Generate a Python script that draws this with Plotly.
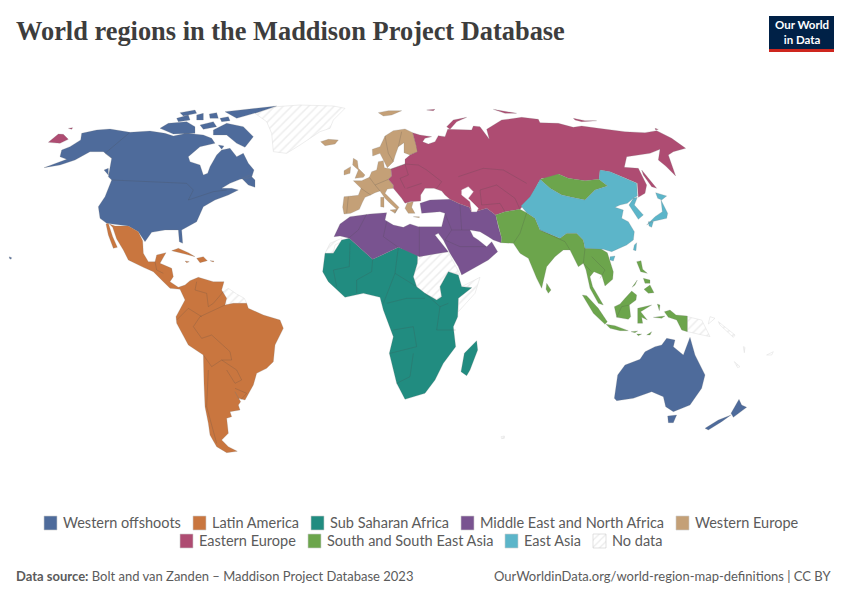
import plotly.graph_objects as go

# outlines, in map units (1/3 of a pixel)
# the *_e lists are measured from x=1275 so they get shifted when drawn

western_offshoots_w = [
    [(132,233),(175,218),(200,208),(180,200),(185,180),(210,170),(242,150),(245,130),(290,120),(330,117),(390,127),(450,123),(495,130),(520,138),(560,130),(610,135),(635,145),(645,160),(600,170),(565,200),(570,215),(600,225),(610,255),(623,250),(630,230),(650,195),(665,180),(690,175),(710,200),(730,190),(745,220),(762,240),(755,262),(720,268),(690,280),(665,295),(695,295),(715,300),(685,315),(645,330),(610,350),(590,395),(545,420),(548,460),(538,455),(535,420),(495,420),(455,427),(435,455),(415,425),(385,408),(320,400),(300,385),(295,350),(315,320),(335,270),(325,260),(335,205),(310,185),(270,185),(225,210),(180,225)],
    [(725,265),(750,255),(765,270),(765,292),(745,285)],
    [(640,120),(680,100),(730,110),(760,140),(735,172),(710,160),(680,135),(640,135)],
    [(675,65),(830,48),(770,68),(710,85)],
    [(505,100),(560,95),(585,110),(585,130),(520,132),(480,115)],
    [(530,85),(565,75),(570,90),(535,95)],
    [(590,75),(610,70),(610,90),(590,90)],
    [(628,72),(650,68),(655,85),(630,85)],
    [(600,105),(640,95),(650,110),(610,118)],
    [(660,85),(685,80),(690,92),(665,95)],
    [(540,68),(585,60),(590,70),(550,78)],
    [(655,165),(672,168),(665,178)],
    [(312,240),(325,235),(325,255)],
    [(28,500),(35,503),(33,508),(28,505)],
]
western_offshoots_e = [
    [(568,925),(578,855),(600,825),(645,808),(660,785),(690,770),(710,765),(725,745),(750,750),(745,770),(775,795),(795,742),(810,795),(840,855),(830,895),(795,945),(745,965),(722,950),(715,920),(680,905),(625,925),(575,932)],
    [(728,978),(755,975),(745,998),(730,998)],
    [(942,928),(950,945),(965,952),(925,982),(918,970)],
    [(918,975),(890,995),(850,1020),(840,1015),(880,990)],
]

latin_america_w = [
    [(328,402),(345,408),(385,408),(415,425),(428,452),(430,490),(445,515),(465,515),(470,495),(498,488),(480,520),(515,535),(520,560),(510,575),(535,592),(555,585),(570,572),(595,562),(640,575),(672,575),(665,600),(680,625),(675,645),(700,640),(740,640),(745,655),(790,675),(840,690),(850,715),(825,765),(820,815),(800,835),(770,850),(760,885),(735,930),(715,925),(705,905),(722,935),(715,945),(720,960),(690,965),(695,980),(680,985),(685,1030),(665,1050),(685,1070),(712,1084),(680,1088),(650,1070),(630,1035),(625,1000),(615,950),(612,880),(610,795),(565,765),(530,700),(528,680),(555,630),(540,598),(510,595),(490,575),(460,545),(430,532),(385,510),(370,480),(350,447),(338,412)],
    [(318,402),(325,400),(338,440),(352,472),(340,475),(325,435)],
    [(515,482),(535,475),(565,488),(585,500),(555,492),(530,485)],
    [(590,505),(610,500),(622,512),(600,518)],
    [(555,513),(568,515),(560,518)],
    [(630,512),(642,513),(640,516)],
]

sub_saharan_africa_w = [
    [(1048,445),(1118,508),(1195,472),(1253,490),(1252,520),(1240,560),(1250,590),(1275,610),(1310,630),(1325,620),(1320,590),(1345,545),(1375,555),(1385,590),(1415,593),(1375,625),(1373,680),(1360,710),(1367,770),(1330,820),(1305,870),(1275,910),(1215,928),(1190,880),(1168,790),(1180,740),(1150,660),(1140,622),(1090,610),(1035,622),(985,575),(968,545),(975,490),(1000,490),(1025,450)],
]
sub_saharan_africa_e = [
    [(155,752),(158,780),(135,840),(125,857),(108,845),(118,790)],
]

middle_east_north_africa_e = [
    [(70,485),(-17,500),(-80,472),(-157,508),(-227,445),(-255,438),(-273,440),(-255,402),(-225,380),(-165,372),(-115,368),(-120,390),(-95,405),(-65,412),(-45,402),(-20,410),(35,410),(50,410),(60,370),(45,365),(-10,370),(-15,340),(15,330),(75,328),(100,340),(133,352),(140,365),(160,362),(185,355),(212,375),(220,410),(230,445),(228,458),(205,450),(190,440),(165,425),(135,420),(145,440),(160,450),(185,470),(200,455),(218,485),(190,510),(110,555),(100,530),(75,490),(55,450),(40,430),(30,435)],
]

western_europe_w = [
    [(1028,352),(1032,320),(1075,316),(1083,295),(1060,272),(1085,272),(1108,262),(1115,245),(1130,240),(1135,215),(1150,212),(1153,233),(1173,237),(1175,258),(1165,268),(1180,285),(1180,295),(1162,297),(1155,310),(1180,335),(1197,352),(1185,370),(1190,358),(1170,340),(1155,325),(1140,303),(1125,308),(1112,315),(1095,322),(1088,335),(1078,358),(1052,370),(1032,372)],
    [(1118,198),(1117,178),(1140,170),(1155,138),(1180,122),(1215,117),(1238,128),(1248,165),(1255,185),(1230,195),(1212,188),(1212,158),(1195,170),(1185,198),(1180,215),(1162,233),(1150,210),(1140,190)],
    [(1060,205),(1072,212),(1075,235),(1095,255),(1090,262),(1065,265),(1075,240),(1058,225)],
    [(1032,242),(1052,230),(1050,250),(1032,255)],
    [(1142,322),(1152,322),(1152,352),(1142,350)],
    [(1170,360),(1190,358),(1185,370)],
    [(1222,338),(1240,335),(1235,352),(1245,370),(1225,370),(1215,355)],
    [(1240,380),(1258,380),(1258,383)],
    [(962,155),(985,148),(1015,150),(1005,162),(975,167)],
    [(1135,68),(1165,62),(1205,62),(1175,75),(1150,78)],
]

eastern_europe_w = [
    [(145,157),(175,132),(190,133),(205,148),(180,160)],
    [(205,115),(218,113),(215,118)],
]
eastern_europe_e = [
    [(-102,237),(-60,222),(-60,208),(-45,195),(-23,185),(-27,165),(-37,128),(-15,135),(20,140),(0,145),(-7,155),(10,162),(30,155),(40,137),(60,140),(65,125),(68,118),(140,120),(145,108),(165,110),(180,130),(193,148),(185,118),(230,90),(290,82),(340,88),(345,98),(400,100),(445,112),(470,108),(520,115),(600,125),(660,128),(695,122),(740,145),(782,175),(745,185),(730,195),(752,258),(722,228),(700,210),(705,178),(675,190),(605,200),(598,232),(640,235),(665,285),(660,310),(640,322),(637,280),(595,262),(555,245),(525,240),(522,268),(480,272),(430,265),(400,252),(395,265),(350,265),(340,278),(318,320),(285,358),(240,365),(212,375),(185,355),(160,362),(140,365),(133,352),(100,340),(75,328),(60,315),(50,303),(27,295),(0,295),(-13,315),(-13,333),(-45,335),(-60,340),(-70,325),(-95,295),(-95,285),(-110,268),(-100,258)],
    [(65,110),(85,90),(125,82),(95,95),(75,118)],
    [(205,58),(245,65),(275,70),(240,70)],
    [(650,240),(695,295),(680,290),(655,255)],
    [(445,85),(480,92),(515,92),(470,95),(450,90)],
    [(5,60),(30,58),(25,62)],
    [(690,115),(700,118),(692,120)],
]

south_east_asia_e = [
    [(212,375),(240,365),(285,358),(305,368),(330,385),(345,420),(405,445),(425,430),(455,430),(475,450),(480,475),(525,475),(547,488),(565,545),(563,568),(540,588),(530,555),(507,545),(495,560),(503,590),(535,645),(520,640),(495,595),(483,540),(475,520),(460,530),(435,480),(415,480),(390,500),(365,530),(350,595),(335,565),(310,505),(285,490),(265,460),(228,458),(230,445),(220,410)],
    [(365,580),(378,600),(370,610),(363,598)],
    [(345,268),(400,252),(430,265),(480,272),(522,268),(548,288),(510,300),(480,330),(440,322),(410,315),(375,295)],
    [(472,615),(485,617),(520,655),(547,695),(540,703),(505,670)],
    [(543,703),(570,707),(610,722),(585,722),(555,715)],
    [(568,650),(585,642),(600,625),(620,603),(635,615),(633,630),(613,645),(617,680),(610,688),(575,682)],
    [(638,655),(680,645),(647,665),(667,690),(650,682),(653,700),(638,700)],
    [(718,665),(735,660),(753,675),(787,678),(787,725),(770,720),(755,690),(730,682)],
    [(635,515),(648,512),(653,538),(667,550),(647,545)],
    [(657,598),(675,585),(687,608),(670,610)],
    [(621,592),(637,570),(630,585)],
    [(655,565),(675,570),(675,580),(660,580)],
    [(665,735),(680,725),(675,735)],
    [(618,725),(638,723),(630,728)],
    [(635,732),(650,732),(640,737)],
    [(697,642),(705,645),(703,662)],
    [(685,682),(720,678),(710,685)],
]

east_asia_e = [
    [(288,348),(315,320),(340,278),(345,268),(375,295),(410,315),(440,322),(480,330),(510,300),(548,288),(522,268),(525,240),(555,245),(595,262),(635,280),(637,318),(625,325),(607,340),(585,345),(570,352),(595,360),(590,385),(610,395),(628,425),(625,450),(605,465),(560,485),(535,478),(480,475),(475,450),(455,430),(425,430),(405,445),(345,420),(330,385),(305,368)],
    [(625,325),(637,322),(628,345),(655,375),(640,388),(625,365),(612,345)],
    [(692,308),(725,318),(710,330),(698,325)],
    [(708,330),(728,370),(725,385),(680,395),(665,405),(690,380),(712,365)],
    [(670,395),(685,395),(680,412),(672,408)],
    [(628,465),(635,458),(633,482),(625,480)],
    [(555,500),(570,498),(565,513),(555,510)],
]

no_data_w = [
    [(765,70),(830,50),(900,45),(1000,48),(1035,55),(1000,90),(990,115),(960,125),(900,165),(860,190),(820,185),(815,130),(800,95)],
    [(670,605),(685,595),(710,612),(733,625),(740,640),(700,640),(680,645),(672,625)],
    [(975,490),(990,460),(1025,445),(1025,455),(1005,465),(1000,490)],
]
no_data_e = [
    [(-25,487),(70,487),(105,553),(70,545),(45,590),(50,620),(35,628),(0,610),(-25,590),(-35,560),(-23,520)],
    [(110,590),(165,562),(150,610),(100,665),(100,625),(140,593)],
    [(787,680),(830,690),(855,740),(787,725)],
    [(855,680),(870,685),(850,702)],
    [(880,695),(930,735),(925,742),(885,705)],
    [(955,770),(960,772),(958,788)],
    [(928,815),(945,830),(938,833)],
    [(1025,795),(1045,785),(1040,795)],
    [(228,1040),(238,1038),(238,1045),(230,1046)],
]

water_e = [
    [(110,300),(130,290),(145,305),(130,325),(160,355),(155,365),(140,365),(135,335),(110,315)],
]

borders_w = [
    [(335,270),(560,280),(580,300),(565,330),(640,305),(680,300)],
    [(390,127),(315,190),(335,205)],
    [(590,575),(585,600),(620,610),(625,650),(640,640),(670,605)],
    [(675,645),(600,680),(580,710),(605,745),(635,735),(690,785),(695,810),(665,810),(635,830),(610,795)],
    [(625,840),(620,950),(650,1060)],
    [(665,810),(710,840),(725,870),(705,880),(680,840)],
    [(705,895),(740,910),(722,930)],
    [(530,690),(565,655),(605,680)],
    [(465,515),(470,540),(490,550)],
    [(1050,460),(1048,530),(1000,540),(1010,590)],
    [(1118,508),(1115,545),(1070,570),(1070,610)],
    [(1195,472),(1185,550),(1150,640)],
    [(1185,550),(1250,590)],
    [(1160,640),(1220,625),(1275,625)],
    [(1180,720),(1240,710),(1250,770),(1170,790)],
    [(1240,790),(1230,860),(1190,880)],
    [(1275,610),(1320,650),(1345,640)],
    [(1320,650),(1310,720),(1367,720)],
    [(1100,372),(1075,420),(1045,445)],
    [(1160,395),(1150,440),(1195,472)],
    [(1258,410),(1258,500)],
    [(1045,320),(1040,370)],
    [(1083,295),(1112,315)],
    [(1108,262),(1125,285),(1165,268)],
    [(1125,285),(1140,303)],
    [(1155,138),(1165,190),(1180,215)],
    [(1195,170),(1205,125)],
]
borders_e = [
    [(100,260),(175,235),(235,240),(305,280)],
    [(-60,222),(-20,225),(5,240)],
    [(5,240),(50,275),(35,295)],
    [(-50,255),(-75,265),(-60,295)],
    [(-55,295),(-10,280)],
    [(-102,237),(-60,222),(-50,255)],
    [(170,345),(165,300),(215,285),(270,325),(285,358)],
    [(240,365),(225,340),(170,345)],
    [(60,370),(80,420),(135,420)],
    [(80,420),(60,450),(105,470),(185,470)],
    [(105,345),(110,420)],
    [(305,368),(295,400),(285,430),(265,460)],
    [(345,420),(420,455),(435,480)],
    [(480,475),(475,520),(500,545)],
    [(500,500),(540,540),(525,565)],
    [(575,682),(590,650),(613,645)],
]

legend_row1 = ["Western offshoots", "Latin America", "Sub Saharan Africa", "Middle East and North Africa", "Western Europe"]
legend_row2 = ["Eastern Europe", "South and South East Asia", "East Asia", "No data"]

colors = {
    "Western offshoots": "#4e6b9b",
    "Latin America": "#c9763f",
    "Sub Saharan Africa": "#218c80",
    "Middle East and North Africa": "#795390",
    "Western Europe": "#c4a077",
    "Eastern Europe": "#ae4c72",
    "South and South East Asia": "#6ca54c",
    "East Asia": "#5cb5c9",
}

regions = [
    ("Western offshoots", western_offshoots_w, western_offshoots_e),
    ("Latin America", latin_america_w, []),
    ("Sub Saharan Africa", sub_saharan_africa_w, sub_saharan_africa_e),
    ("Middle East and North Africa", [], middle_east_north_africa_e),
    ("Western Europe", western_europe_w, []),
    ("Eastern Europe", eastern_europe_w, eastern_europe_e),
    ("South and South East Asia", [], south_east_asia_e),
    ("East Asia", [], east_asia_e),
]

GREY = "#5b5b5b"


def join_shapes(west, east):
    xs, ys = [], []
    for poly in west:
        xs += [p[0] for p in poly] + [poly[0][0], None]
        ys += [p[1] for p in poly] + [poly[0][1], None]
    for poly in east:
        xs += [p[0] + 1275 for p in poly] + [poly[0][0] + 1275, None]
        ys += [p[1] for p in poly] + [poly[0][1], None]
    return xs, ys


def join_lines(west, east):
    xs, ys = [], []
    for line in west:
        xs += [p[0] for p in line] + [None]
        ys += [p[1] for p in line] + [None]
    for line in east:
        xs += [p[0] + 1275 for p in line] + [None]
        ys += [p[1] for p in line] + [None]
    return xs, ys


# screen pixels to map units
def mx(px):
    return px * 3


def my(py):
    return py * 3 - 270


fig = go.Figure()

xs, ys = join_shapes(no_data_w, no_data_e)
fig.add_trace(go.Scatter(x=xs, y=ys, mode="lines", fill="toself", name="No data",
                         line=dict(color="#dddddd", width=0.5),
                         fillcolor="white",
                         fillpattern=dict(shape="/", fgcolor="#dcdcdc", bgcolor="white", size=6, solidity=0.25)))

for name, west, east in regions:
    xs, ys = join_shapes(west, east)
    fig.add_trace(go.Scatter(x=xs, y=ys, mode="lines", fill="toself", name=name,
                             line=dict(color="rgba(120,120,120,0.5)", width=0.4),
                             fillcolor=colors[name]))

xs, ys = join_shapes([], water_e)
fig.add_trace(go.Scatter(x=xs, y=ys, mode="lines", fill="toself", name="water",
                         line=dict(color="#dddddd", width=0.4), fillcolor="white"))

xs, ys = join_lines(borders_w, borders_e)
fig.add_trace(go.Scatter(x=xs, y=ys, mode="lines", name="borders",
                         line=dict(color="rgba(70,70,70,0.4)", width=0.5)))

# legend swatches, hatch one needs a trace as shapes have no pattern
swatch_x = {"Western offshoots": 44, "Latin America": 193, "Sub Saharan Africa": 311,
            "Middle East and North Africa": 461, "Western Europe": 676,
            "Eastern Europe": 180, "South and South East Asia": 308, "East Asia": 505, "No data": 593}

shapes = []
annotations = []
for row_y, row in ((523, legend_row1), (541, legend_row2)):
    for name in row:
        x0 = swatch_x[name]
        if name == "No data":
            fig.add_trace(go.Scatter(x=[mx(x0), mx(x0 + 13), mx(x0 + 13), mx(x0), mx(x0)],
                                     y=[my(row_y - 7), my(row_y - 7), my(row_y + 7), my(row_y + 7), my(row_y - 7)],
                                     mode="lines", fill="toself", name="No data swatch",
                                     line=dict(color="#cccccc", width=0.6), fillcolor="white",
                                     fillpattern=dict(shape="/", fgcolor="#d5d5d5", bgcolor="white", size=5, solidity=0.25)))
        else:
            shapes.append(dict(type="rect", xref="x", yref="y", x0=mx(x0), x1=mx(x0 + 13),
                               y0=my(row_y - 7), y1=my(row_y + 7), fillcolor=colors[name],
                               line=dict(color="#cccccc", width=0.6)))
        annotations.append(dict(x=mx(x0 + 17), y=my(row_y - 0.5), xref="x", yref="y", text=name,
                                showarrow=False, xanchor="left", yanchor="middle",
                                font=dict(family="Lato", size=14.5, color=GREY)))

annotations.append(dict(x=mx(14), y=my(31), xref="x", yref="y", text="<b>World regions in the Maddison Project Database</b>",
                        showarrow=False, xanchor="left", yanchor="middle",
                        font=dict(family="Liberation Serif", size=26.4, color="#3d3d3d")))
annotations.append(dict(x=mx(14), y=my(576), xref="x", yref="y",
                        text="<b>Data source:</b> Bolt and van Zanden – Maddison Project Database 2023",
                        showarrow=False, xanchor="left", yanchor="middle",
                        font=dict(family="Lato", size=13, color=GREY)))
annotations.append(dict(x=mx(833), y=my(576), xref="x", yref="y",
                        text="OurWorldinData.org/world-region-map-definitions | CC BY",
                        showarrow=False, xanchor="right", yanchor="middle",
                        font=dict(family="Lato", size=13, color=GREY)))
annotations.append(dict(x=mx(801.5), y=my(32), xref="x", yref="y", text="<b>Our World<br>in Data</b>",
                        showarrow=False, xanchor="center", yanchor="middle",
                        font=dict(family="Lato", size=11.5, color="white")))

# logo
shapes.append(dict(type="rect", xref="x", yref="y", x0=mx(769), x1=mx(834), y0=my(16), y1=my(52),
                   fillcolor="#002147", line=dict(width=0), layer="below"))
shapes.append(dict(type="rect", xref="x", yref="y", x0=mx(769), x1=mx(834), y0=my(49), y1=my(52),
                   fillcolor="#ce261e", line=dict(width=0)))

# page puts the plot 8px in from the corner, so the ranges start 8px (24 units) later
fig.update_layout(
    width=850, height=600,
    margin=dict(l=0, r=0, t=0, b=0),
    paper_bgcolor="white", plot_bgcolor="white",
    showlegend=False,
    shapes=shapes, annotations=annotations,
    xaxis=dict(visible=False, range=[24, 2574], fixedrange=True),
    yaxis=dict(visible=False, range=[1554, -246], fixedrange=True),
)

fig.write_html("out.html", config=dict(displayModeBar=False))
